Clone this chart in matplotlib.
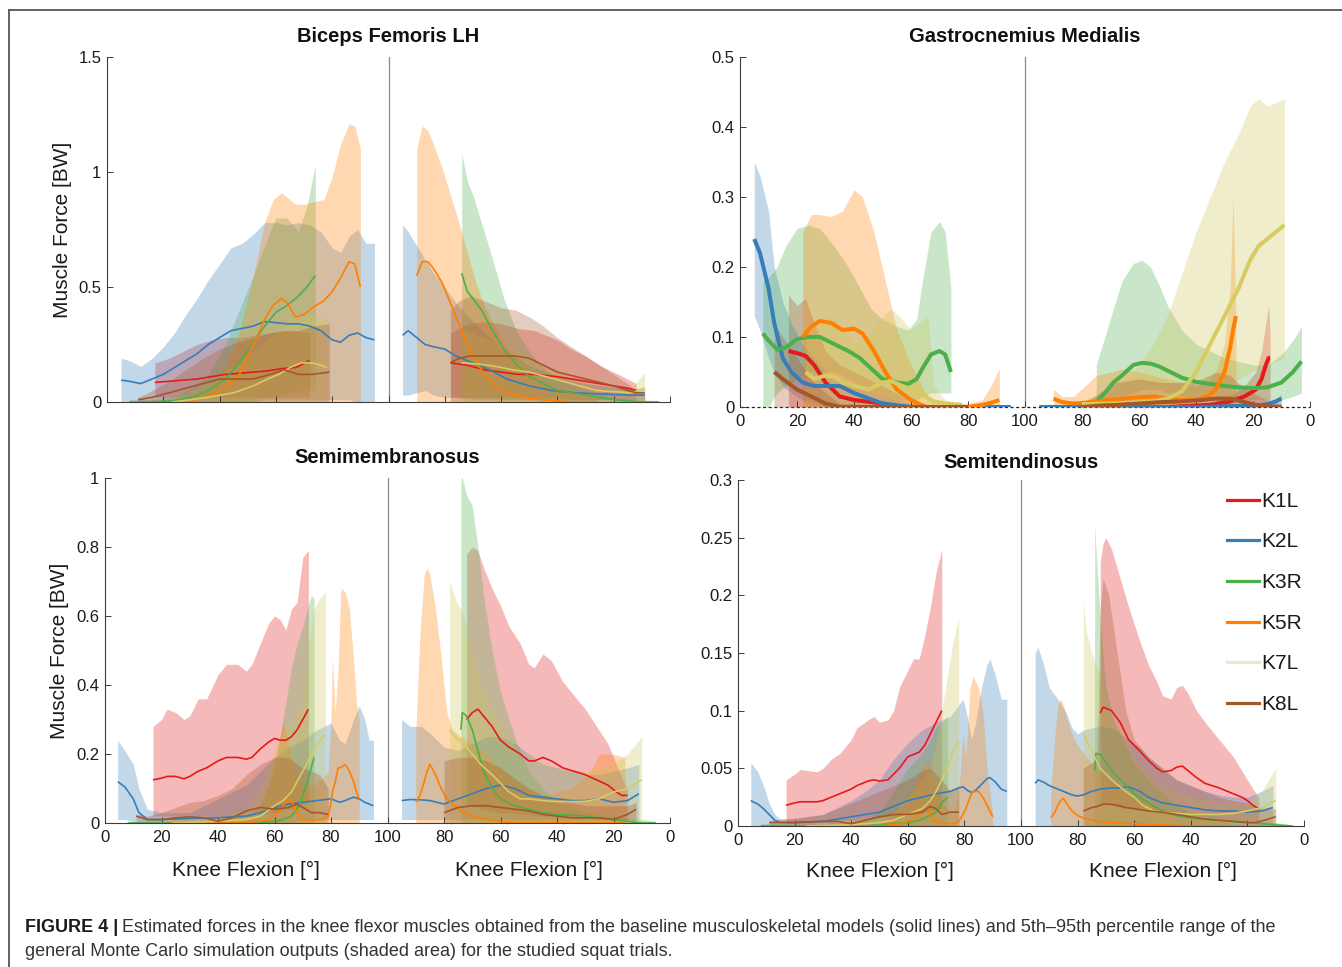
import matplotlib
matplotlib.use('Agg')
import matplotlib.pyplot as plt
import numpy as np
from matplotlib.lines import Line2D
from matplotlib.transforms import blended_transform_factory

plt.rcParams['font.family'] = ['Liberation Sans', 'DejaVu Sans']

# ---------------- data ----------------
SUBJECTS = ['K1L', 'K2L', 'K3R', 'K5R', 'K7L', 'K8L']
LINE_COLORS = ['#e41a1c', '#377eb8', '#4daf4a', '#ff7f00', '#d6cc62', '#a65628']
BAND_COLORS = ['#e41a1c', '#377eb8', '#4daf4a', '#ff7f00', '#cdc658', '#a65628']
LEGEND_COLORS = ['#e41a1c', '#377eb8', '#4daf4a', '#ff7f00', '#ebe9c8', '#a65628']
XTICK_POS = [0, 20, 40, 60, 80, 100, 120, 140, 160, 180, 200]
XTICK_LABELS = ['0', '20', '40', '60', '80', '100', '80', '60', '40', '20', '0']

# rows: (knee flexion [deg], baseline force, 5th pct, 95th pct)
# ---- Biceps Femoris LH ----
BF_K1L_DN = [(17,.085,.02,.17),(22,.09,.02,.19),(27,.095,.02,.22),(32,.10,.02,.25),(37,.11,.02,.27),
             (42,.12,.02,.28),(47,.125,.02,.28),(52,.13,.02,.29),(57,.135,.02,.30),(62,.145,.02,.31),
             (67,.15,.02,.31),(72,.18,.02,.30)]
BF_K2L_DN = [(5,.095,0,.19),(8,.09,0,.18),(12,.08,0,.155),(16,.10,0,.19),(20,.12,0,.24),(24,.15,0,.30),
             (28,.18,0,.38),(32,.21,0,.45),(36,.25,0,.53),(40,.28,0,.60),(44,.31,0,.67),(48,.32,0,.69),
             (52,.33,0,.73),(56,.35,.01,.78),(60,.345,.01,.78),(64,.34,.01,.77),(68,.34,.01,.78),
             (72,.33,.01,.77),(76,.31,.01,.74),(80,.27,.01,.67),(83,.26,.01,.65),(86,.29,.01,.72),
             (89,.30,0,.75),(92,.28,0,.69),(95,.27,0,.69)]
BF_K3R_DN = [(8,0,0,.01),(15,0,0,.01),(23,.005,0,.02),(30,.02,0,.06),(36,.05,0,.12),(42,.10,0,.25),
             (47,.17,0,.40),(52,.26,.01,.55),(56,.33,.02,.68),(60,.39,.03,.80),(64,.42,.04,.80),
             (68,.46,.05,.74),(71,.50,.05,.85),(74,.55,.05,1.03)]
BF_K5R_DN = [(28,0,0,.02),(35,.02,0,.05),(42,.06,0,.15),(47,.12,0,.30),(52,.25,0,.55),(56,.36,0,.78),
             (59,.42,0,.88),(62,.45,0,.91),(64,.43,0,.89),(67,.37,0,.86),(70,.38,0,.86),(73,.41,0,.87),
             (77,.44,0,.88),(80,.48,0,.98),(83,.54,0,1.12),(86,.61,0,1.21),(88,.60,0,1.20),(90,.50,0,1.10)]
BF_K7L_DN = [(23,0,0,.02),(30,.01,0,.05),(38,.025,0,.10),(45,.04,0,.16),(52,.07,0,.22),(57,.10,0,.27),
             (61,.12,0,.31),(65,.15,0,.34),(69,.17,0,.37),(73,.17,0,.38),(76,.16,0,.37),(78,.15,0,.36)]
BF_K8L_DN = [(11,.01,0,.02),(16,.02,0,.05),(22,.04,0,.09),(28,.06,0,.14),(34,.08,0,.19),(40,.10,0,.23),
             (46,.10,0,.26),(52,.10,0,.28),(58,.12,0,.30),(63,.14,0,.31),(68,.12,0,.31),(73,.12,0,.33),
             (79,.13,0,.34)]
BF_K1L_UP = [(78,.17,.02,.30),(72,.16,.02,.34),(66,.14,.02,.35),(60,.13,.02,.34),(54,.12,.02,.32),
             (48,.12,.02,.31),(44,.115,.02,.29),(40,.11,.02,.27),(35,.10,.01,.23),(30,.09,.01,.20),
             (25,.08,.01,.16),(20,.07,.01,.13),(15,.06,.01,.10),(12,.05,.01,.08)]
BF_K2L_UP = [(95,.29,.03,.77),(93,.31,.03,.74),(90,.28,.04,.68),(87,.25,.05,.62),(84,.24,.03,.56),
             (80,.23,.02,.50),(76,.20,.02,.43),(70,.17,.01,.35),(64,.14,.01,.28),(58,.10,.01,.22),
             (50,.07,.01,.16),(42,.05,.01,.12),(34,.04,.01,.09),(25,.035,.01,.07),(15,.03,.01,.06),
             (9,.03,.01,.06)]
BF_K3R_UP = [(74,.56,.02,1.08),(72,.48,.02,.96),(70,.45,.02,.90),(67,.40,.02,.78),(63,.31,.02,.62),
             (59,.23,.01,.45),(55,.17,.01,.32),(50,.11,.01,.22),(45,.08,0,.15),(40,.05,0,.10),
             (30,.03,0,.05),(20,.01,0,.02),(10,0,0,.01),(4,0,0,.005)]
BF_K5R_UP = [(90,.55,0,1.10),(88,.61,0,1.20),(86,.61,0,1.18),(84,.58,0,1.12),(81,.52,0,1.02),
             (78,.43,0,.90),(75,.34,0,.78),(72,.25,0,.65),(69,.18,0,.52),(66,.12,0,.42),(62,.07,0,.32),
             (58,.04,0,.24),(52,.02,0,.16),(45,.01,0,.09),(35,0,0,.04),(26,0,0,.02)]
BF_K7L_UP = [(74,.17,0,.32),(68,.165,0,.29),(62,.155,0,.26),(56,.14,0,.23),(50,.13,0,.20),(44,.11,0,.16),
             (38,.09,0,.12),(32,.07,0,.09),(26,.05,0,.07),(20,.045,0,.06),(14,.04,0,.06),(11,.05,0,.10),
             (9,.06,0,.13)]
BF_K8L_UP = [(78,.17,0,.40),(75,.19,0,.44),(71,.20,0,.46),(66,.20,0,.44),(60,.20,0,.41),(55,.20,0,.40),
             (50,.19,0,.37),(45,.16,0,.33),(40,.13,0,.28),(35,.115,0,.24),(30,.10,0,.20),(25,.085,0,.16),
             (20,.07,0,.12),(15,.05,0,.08),(12,.04,0,.05),(9,.04,0,.04)]

# ---- Gastrocnemius Medialis ----
GM_K1L_DN = [(17,.08,0,.16),(20,.077,0,.145),(23,.073,0,.155),(26,.06,0,.12),(30,.035,0,.08),
             (35,.015,0,.06),(40,.01,0,.05),(50,.005,0,.03),(57,0,0,.015),(65,0,0,.005)]
GM_K2L_DN = [(5,.24,.13,.35),(7,.22,.11,.33),(10,.17,.07,.28),(12,.12,.05,.20),(15,.07,.03,.15),
             (18,.05,.02,.12),(22,.035,.01,.09),(26,.03,.005,.07),(30,.03,0,.05),(35,.03,0,.04),
             (40,.02,0,.03),(50,.005,0,.015),(60,0,0,.005),(80,0,0,.002),(95,0,0,.002)]
GM_K3R_DN = [(8,.105,0,.18),(10,.095,0,.185),(13,.082,.02,.20),(16,.085,.03,.23),(20,.097,.04,.255),
             (24,.10,.05,.26),(28,.10,.05,.255),(33,.09,.05,.23),(38,.08,.04,.20),(42,.07,.03,.17),
             (46,.055,.02,.14),(50,.04,.015,.125),(55,.035,.01,.115),(59,.033,.01,.11),(62,.04,.01,.125),
             (64,.055,.015,.18),(67,.075,.02,.25),(70,.08,.02,.265),(72,.075,.02,.25),(74,.05,.02,.17)]
GM_K5R_DN = [(22,.10,0,.25),(25,.115,0,.275),(28,.123,0,.275),(32,.12,0,.272),(36,.11,0,.28),
             (40,.112,0,.31),(43,.105,0,.30),(47,.08,0,.25),(51,.05,0,.18),(55,.025,0,.11),(60,.01,0,.06),
             (65,0,0,.02),(70,0,0,.005),(80,0,0,.005),(85,.003,0,.01),(88,.006,0,.03),(91,.01,0,.055)]
GM_K7L_DN = [(23,.05,0,.10),(26,.04,0,.12),(30,.045,0,.13),(33,.043,0,.125),(36,.035,0,.11),
             (40,.03,0,.09),(45,.025,0,.10),(50,.035,0,.13),(53,.037,0,.14),(57,.03,0,.125),
             (60,.025,0,.11),(63,.022,0,.12),(66,.012,0,.13),(68,.008,0,.03),(72,.005,0,.01),(78,.003,0,.005)]
GM_K8L_DN = [(12,.05,0,.12),(15,.04,0,.10),(20,.025,0,.07),(25,.015,0,.04),(30,.005,0,.02),
             (35,0,0,.005),(50,0,0,.002),(80,0,0,.002)]
GM_K1L_UP = [(80,0,0,0),(50,0,0,.003),(35,.003,0,.008),(28,.008,0,.015),(23,.015,0,.03),(19,.025,0,.05),
             (17,.04,0,.08),(15.5,.06,0,.12),(14.5,.07,0,.145),(14,.07,0,.10)]
GM_K2L_UP = [(95,0,0,.002),(80,0,0,.002),(60,0,0,.002),(40,0,0,.002),(20,.002,0,.005),(15,.004,0,.008),
             (12,.008,0,.012),(10,.012,0,.018)]
GM_K3R_UP = [(75,.008,0,.06),(72,.02,0,.10),(69,.035,.01,.14),(66,.045,.015,.18),(62,.06,.02,.205),
             (59,.063,.025,.21),(56,.062,.025,.20),(53,.058,.025,.175),(50,.052,.02,.145),(45,.042,.015,.11),
             (40,.036,.01,.09),(35,.033,.01,.08),(30,.03,.01,.07),(25,.028,.01,.065),(20,.027,.01,.06),
             (15,.028,.01,.06),(10,.035,.01,.075),(6,.05,.015,.095),(3,.065,.02,.115)]
GM_K5R_UP = [(90,.012,0,.025),(87,.007,0,.015),(83,.005,0,.015),(79,.006,0,.03),(75,.008,0,.045),
             (70,.01,0,.05),(65,.012,0,.055),(60,.014,0,.05),(55,.015,0,.045),(50,.012,0,.04),(45,.01,0,.035),
             (40,.01,0,.03),(36,.015,0,.035),(33,.025,0,.05),(30,.05,0,.09),(28,.085,0,.17),(27,.11,0,.305),
             (26,.13,0,.13)]
GM_K7L_UP = [(80,.004,0,.01),(70,.005,0,.02),(62,.006,0,.05),(55,.008,0,.09),(50,.012,0,.13),
             (45,.022,0,.19),(40,.05,.01,.25),(35,.09,.02,.30),(30,.13,.03,.35),(25,.17,.04,.39),
             (21,.21,.05,.43),(18,.23,.055,.44),(15,.24,.06,.43),(12,.25,.065,.435),(9,.26,.07,.44)]
GM_K8L_UP = [(80,0,0,.005),(74,.002,0,.02),(68,.003,0,.035),(60,.005,0,.04),(52,.007,0,.035),
             (45,.008,0,.035),(38,.01,0,.04),(33,.012,0,.05),(28,.012,0,.045),(24,.008,0,.03),
             (20,.004,0,.02),(15,.001,0,.01),(10,0,0,.005)]

# ---- Semimembranosus ----
SM_K1L_DN = [(17,.125,.02,.28),(20,.13,.02,.30),(22,.135,.02,.33),(25,.135,.02,.32),(28,.128,.02,.30),
             (30,.135,.02,.31),(33,.15,.02,.36),(36,.16,.02,.36),(40,.18,.015,.43),(43,.19,.015,.46),
             (47,.19,.015,.46),(50,.185,.02,.44),(52,.19,.02,.46),(55,.215,.025,.52),(58,.235,.03,.58),
             (60,.245,.03,.60),(62,.24,.035,.59),(64,.24,.04,.56),(66,.25,.04,.62),(68,.27,.045,.64),
             (70,.30,.05,.77),(72,.33,.06,.79)]
SM_K2L_DN = [(4.5,.12,.01,.24),(7,.105,.01,.21),(10,.07,.005,.17),(12,.03,0,.10),(15,.01,0,.04),
             (20,.01,0,.03),(30,.013,0,.03),(40,.015,0,.07),(45,.018,0,.09),(50,.02,0,.11),(55,.03,0,.15),
             (60,.045,0,.19),(65,.055,0,.22),(70,.06,.01,.24),(75,.065,.01,.27),(80,.07,.01,.29),
             (83,.06,.01,.24),(85,.065,.01,.23),(88,.075,.01,.30),(90,.07,.01,.34),(92,.06,.01,.30),
             (93.5,.055,.01,.24),(95,.05,.01,.24)]
SM_K3R_DN = [(8,0,0,.005),(30,0,0,.005),(50,0,0,.02),(55,.002,0,.05),(60,.005,0,.15),(63,.01,0,.30),
             (66,.02,0,.45),(68,.04,0,.52),(70,.08,0,.57),(72,.13,0,.63),(73,.16,0,.66),(74,.19,0,.65)]
SM_K5R_DN = [(23,0,0,.005),(40,0,0,.01),(50,0,0,.02),(55,.005,0,.05),(58,.01,0,.12),(61,.03,0,.22),
             (63,.05,0,.29),(64.5,.07,0,.25),(66,.065,0,.20),(68,.03,0,.13),(70,.01,0,.10),(74,.008,0,.11),
             (77,.01,0,.13),(79,.02,0,.15),(80,.06,0,.30),(80.5,.09,0,.48),(81.5,.12,0,.32),(82.5,.16,0,.45),
             (83.5,.16,0,.68),(85,.17,0,.67),(86.5,.15,0,.62),(88,.12,0,.47),(89,.09,0,.35),(90,.07,0,.30)]
SM_K7L_DN = [(24,0,0,.01),(40,.005,0,.02),(50,.01,0,.04),(55,.02,0,.10),(60,.05,0,.21),(63,.065,0,.26),
             (66,.09,0,.29),(70,.15,0,.35),(72,.18,0,.52),(74,.21,0,.62),(76,.24,0,.65),(78,.255,0,.67)]
SM_K8L_DN = [(11,.02,0,.025),(15,.01,0,.02),(20,.01,0,.03),(25,.015,0,.045),(30,.018,0,.06),
             (35,.015,0,.065),(40,.005,0,.08),(45,.015,0,.10),(50,.035,0,.14),(55,.045,0,.17),
             (60,.04,0,.19),(65,.045,0,.19),(68,.055,0,.17),(70,.045,0,.16),(73,.03,0,.15),(76,.03,0,.14),
             (79,.025,0,.10)]
SM_K1L_UP = [(72,.30,.05,.78),(70,.32,.05,.80),(68,.33,.045,.79),(66,.31,.04,.74),(63,.28,.035,.68),
             (60,.24,.03,.63),(57,.22,.03,.57),(53,.20,.025,.52),(50,.18,.025,.46),(48,.18,.02,.45),
             (45,.19,.02,.49),(42,.18,.02,.47),(38,.16,.02,.41),(34,.15,.015,.37),(30,.14,.015,.33),
             (26,.125,.01,.28),(22,.11,.01,.23),(19,.09,.01,.17),(17,.08,.01,.13),(15,.08,.01,.10)]
SM_K2L_UP = [(95,.065,.01,.30),(92,.068,.01,.28),(88,.067,.01,.28),(85,.065,.01,.26),(80,.055,.01,.22),
             (75,.07,.01,.21),(70,.085,.01,.23),(65,.10,.01,.25),(60,.11,.01,.25),(55,.10,.01,.23),
             (50,.08,.01,.20),(45,.075,.01,.17),(40,.07,.01,.16),(35,.065,.01,.15),(30,.065,.01,.14),
             (25,.07,.01,.14),(20,.06,.01,.15),(15,.065,.01,.16),(11,.085,.01,.17)]
SM_K3R_UP = [(74,.27,0,1.0),(73.5,.32,0,1.0),(72,.31,0,.95),(70,.27,0,.92),(68,.21,0,.80),(66,.15,0,.66),
             (63,.10,0,.50),(60,.07,0,.38),(55,.05,0,.25),(50,.04,0,.15),(45,.03,0,.10),(40,.025,0,.06),
             (30,.02,0,.03),(20,.01,0,.02),(10,0,0,.01),(5,0,0,.005)]
SM_K5R_UP = [(90,.06,0,.26),(88.5,.08,0,.55),(87,.12,0,.72),(86,.15,0,.74),(85,.17,0,.72),(83,.14,0,.62),
             (81,.10,0,.48),(79,.07,0,.32),(77,.055,0,.27),(74,.035,0,.25),(70,.02,0,.23),(65,.01,0,.20),
             (60,.005,0,.16),(55,0,0,.12),(45,0,0,.08),(35,0,0,.10),(28,0,0,.15),(25,0,0,.20),
             (20,0,0,.20),(16,0,0,.19)]
SM_K7L_UP = [(78,.27,0,.70),(76,.25,0,.65),(73,.23,0,.60),(70,.20,0,.50),(67,.17,0,.40),(63,.14,0,.33),
             (60,.115,0,.28),(57,.09,0,.24),(53,.07,0,.21),(50,.07,0,.20),(45,.065,0,.18),(40,.062,0,.16),
             (35,.062,0,.155),(30,.063,0,.15),(25,.07,0,.16),(20,.09,0,.17),(15,.10,0,.20),(10,.125,0,.25)]
SM_K8L_UP = [(80,.03,0,.18),(75,.045,0,.19),(70,.05,0,.19),(65,.05,0,.18),(60,.045,0,.16),(55,.04,0,.13),
             (50,.035,0,.10),(45,.025,0,.08),(40,.02,0,.07),(35,.015,0,.06),(30,.015,0,.05),(25,.015,0,.05),
             (20,.01,0,.05),(15,.025,0,.05),(12,.04,0,.06)]

# ---- Semitendinosus ----
ST_K1L_DN = [(17,.018,.002,.04),(20,.02,.002,.045),(22,.021,.002,.049),(25,.021,.002,.048),
             (28,.021,.003,.047),(30,.022,.003,.05),(33,.025,.003,.058),(36,.028,.004,.063),
             (40,.032,.005,.075),(42,.035,.005,.085),(46,.039,.006,.092),(48,.04,.006,.095),
             (50,.039,.007,.09),(53,.04,.008,.092),(55,.045,.008,.10),(57,.05,.009,.12),(60,.06,.01,.135),
             (62,.062,.01,.145),(64,.064,.011,.145),(66,.07,.012,.165),(68,.08,.013,.19),(70,.09,.014,.22),
             (72,.10,.015,.24)]
ST_K2L_DN = [(4.5,.022,0,.055),(7,.019,0,.047),(9,.015,0,.035),(11,.01,0,.02),(13,.005,0,.01),
             (15,.003,0,.006),(20,.003,0,.006),(30,.004,0,.01),(40,.008,0,.022),(45,.01,0,.03),
             (50,.012,0,.04),(55,.017,0,.058),(60,.022,0,.072),(65,.025,0,.083),(70,.028,0,.09),
             (75,.03,0,.095),(78,.033,0,.105),(79.5,.034,0,.11),(81,.031,0,.095),(82.5,.029,0,.075),
             (84,.031,0,.09),(86,.036,0,.12),(88,.041,0,.14),(89,.042,0,.145),(91,.038,0,.13),
             (93,.032,0,.11),(95,.03,0,.11)]
ST_K3R_DN = [(8,0,0,.002),(30,0,0,.002),(45,0,0,.005),(50,.001,0,.012),(55,.002,0,.03),(60,.003,0,.05),
             (64,.005,0,.06),(67,.008,0,.07),(70,.012,0,.085),(72,.02,0,.09),(74,.025,0,.095)]
ST_K5R_DN = [(23,0,0,.002),(50,0,0,.005),(58,.002,0,.015),(62,.006,0,.03),(65,.012,0,.05),
             (67,.015,0,.056),(69,.005,0,.04),(72,.002,0,.02),(76,.002,0,.01),(78,.004,0,.03),
             (79.5,.01,0,.08),(80.5,.015,0,.06),(82,.025,0,.12),(83,.03,0,.13),(85,.03,0,.12),
             (86.5,.025,0,.10),(88,.018,0,.05),(90,.008,0,.01)]
ST_K7L_DN = [(24,0,0,.002),(40,.001,0,.004),(50,.003,0,.008),(55,.005,0,.012),(60,.01,0,.025),
             (65,.015,0,.04),(68,.022,0,.05),(70,.03,0,.07),(72,.04,0,.10),(74,.05,0,.13),(76,.065,0,.16),
             (78,.073,0,.18)]
ST_K8L_DN = [(11,.003,0,.005),(20,.003,0,.007),(30,.004,0,.01),(35,.004,0,.015),(40,.002,0,.02),
             (45,.005,0,.025),(50,.008,0,.03),(55,.01,0,.035),(60,.01,0,.04),(65,.012,0,.048),
             (68,.017,0,.05),(70,.015,0,.045),(72,.01,0,.04),(75,.012,0,.03),(78,.012,0,.035)]
ST_K1L_UP = [(72,.098,.02,.23),(71,.103,.02,.245),(70,.102,.02,.25),(68,.10,.018,.24),(65,.09,.016,.215),
             (62,.075,.015,.19),(58,.065,.014,.16),(55,.057,.013,.14),(52,.05,.012,.125),(50,.047,.011,.113),
             (47,.048,.01,.11),(45,.051,.01,.12),(43,.052,.01,.122),(41,.048,.01,.115),(38,.042,.009,.10),
             (35,.037,.008,.09),(30,.033,.007,.075),(25,.028,.006,.06),(22,.025,.005,.048),(20,.022,.005,.04),
             (18,.018,.005,.032),(16,.015,.004,.025)]
ST_K2L_UP = [(95,.037,0,.15),(94,.04,0,.155),(92,.038,0,.14),(90,.035,0,.12),(87,.032,0,.11),
             (84,.029,0,.098),(82,.027,0,.085),(80,.026,0,.08),(78,.027,0,.083),(75,.03,0,.085),
             (72,.032,0,.087),(68,.033,0,.085),(65,.033,0,.08),(62,.034,0,.075),(58,.03,0,.068),
             (55,.025,0,.06),(50,.02,0,.05),(45,.018,0,.04),(40,.016,0,.035),(35,.014,0,.03),
             (30,.013,0,.027),(25,.013,0,.025),(20,.012,0,.025),(15,.013,0,.03),(11,.016,0,.035)]
ST_K3R_UP = [(74,.048,0,.26),(73.5,.063,0,.24),(72,.062,0,.18),(70,.055,0,.12),(67,.045,0,.09),
             (64,.038,0,.075),(60,.028,0,.055),(55,.02,0,.04),(50,.013,0,.028),(45,.009,0,.018),
             (40,.007,0,.012),(30,.005,0,.008),(20,.003,0,.005),(10,.001,0,.003),(4,0,0,.001)]
ST_K5R_UP = [(89.5,.007,0,.03),(88,.012,0,.08),(87,.018,0,.105),(86,.022,0,.11),(85,.024,0,.105),
             (84,.02,0,.095),(82,.013,0,.08),(80,.009,0,.07),(77,.006,0,.06),(73,.004,0,.048),
             (68,.003,0,.038),(60,.002,0,.025),(50,.001,0,.015),(40,0,0,.01),(30,0,0,.005),(26,0,0,.003)]
ST_K7L_UP = [(78,.08,0,.195),(77,.075,0,.17),(75,.065,0,.15),(72,.05,0,.13),(70,.045,0,.11),
             (67,.038,0,.09),(63,.03,0,.075),(60,.025,0,.06),(57,.018,0,.05),(53,.013,0,.04),
             (50,.012,0,.035),(45,.011,0,.03),(40,.01,0,.025),(35,.01,0,.022),(30,.01,0,.02),
             (25,.011,0,.02),(20,.013,0,.02),(15,.016,0,.03),(10,.022,0,.05)]
ST_K8L_UP = [(78,.013,0,.05),(75,.016,0,.055),(73,.017,0,.06),(72,.018,0,.19),(71,.019,0,.215),
             (69,.019,0,.20),(66,.018,0,.15),(63,.016,0,.10),(60,.015,0,.075),(55,.013,0,.06),
             (50,.012,0,.05),(45,.01,0,.04),(40,.008,0,.035),(35,.006,0,.03),(30,.005,0,.025),
             (25,.004,0,.022),(20,.003,0,.02),(17,.003,0,.017),(14,.005,0,.015),(10,.008,0,.015)]

BF_DOWN = [BF_K1L_DN, BF_K2L_DN, BF_K3R_DN, BF_K5R_DN, BF_K7L_DN, BF_K8L_DN]
BF_UP = [BF_K1L_UP, BF_K2L_UP, BF_K3R_UP, BF_K5R_UP, BF_K7L_UP, BF_K8L_UP]
GM_DOWN = [GM_K1L_DN, GM_K2L_DN, GM_K3R_DN, GM_K5R_DN, GM_K7L_DN, GM_K8L_DN]
GM_UP = [GM_K1L_UP, GM_K2L_UP, GM_K3R_UP, GM_K5R_UP, GM_K7L_UP, GM_K8L_UP]
SM_DOWN = [SM_K1L_DN, SM_K2L_DN, SM_K3R_DN, SM_K5R_DN, SM_K7L_DN, SM_K8L_DN]
SM_UP = [SM_K1L_UP, SM_K2L_UP, SM_K3R_UP, SM_K5R_UP, SM_K7L_UP, SM_K8L_UP]
ST_DOWN = [ST_K1L_DN, ST_K2L_DN, ST_K3R_DN, ST_K5R_DN, ST_K7L_DN, ST_K8L_DN]
ST_UP = [ST_K1L_UP, ST_K2L_UP, ST_K3R_UP, ST_K5R_UP, ST_K7L_UP, ST_K8L_UP]

# ---------------- figure ----------------
W, H = 1342, 967
fig = plt.figure(figsize=(W / 100, H / 100), dpi=100)


def px_axes(x0, x1, ytop, ybot):
    return fig.add_axes([x0 / W, 1 - ybot / H, (x1 - x0) / W, (ybot - ytop) / H])


SPINE = '#3c3c3c'


def setup(ax, ymax, yticks, ylabels, title, show_xlabels, title_pad=11):
    ax.set_xlim(0, 200)
    ax.set_ylim(0, ymax)
    for s in ('top', 'right'):
        ax.spines[s].set_visible(False)
    for s in ('left', 'bottom'):
        ax.spines[s].set_color(SPINE)
        ax.spines[s].set_linewidth(0.8)
    ax.set_xticks(XTICK_POS)
    ax.set_xticklabels(XTICK_LABELS if show_xlabels else [''] * len(XTICK_POS))
    ax.set_yticks(yticks)
    ax.set_yticklabels(ylabels)
    ax.tick_params(direction='in', length=4, width=0.7, color=SPINE, labelsize=12,
                   labelcolor='#1a1a1a', pad=4)
    ax.tick_params(axis='x', pad=5)
    ax.axvline(100, color='#8a8a8a', lw=0.9, zorder=0.5)
    ax.set_title(title, fontsize=14.5, fontweight='bold', pad=title_pad, color='#111111')


def draw(ax, down, up, lw):
    for i in range(len(SUBJECTS)):
        for rows, asc in ((down[i], False), (up[i], True)):
            arr = np.array(rows, dtype=float)
            x = 200 - arr[:, 0] if asc else arr[:, 0]
            ax.fill_between(x, arr[:, 2], arr[:, 3], color=BAND_COLORS[i], alpha=0.3, lw=0)
            ax.plot(x, arr[:, 1], color=LINE_COLORS[i], lw=lw, solid_capstyle='butt')


ax_bf = px_axes(107, 670, 57, 402)
ax_gm = px_axes(740, 1310, 57, 407)
ax_sm = px_axes(105, 670, 478, 823)
ax_st = px_axes(738, 1304, 480, 826)

setup(ax_bf, 1.5, [0, 0.5, 1, 1.5], ['0', '0.5', '1', '1.5'], 'Biceps Femoris LH', False)
setup(ax_gm, 0.5, [0, 0.1, 0.2, 0.3, 0.4, 0.5], ['0', '0.1', '0.2', '0.3', '0.4', '0.5'],
      'Gastrocnemius Medialis', True)
setup(ax_sm, 1.0, [0, 0.2, 0.4, 0.6, 0.8, 1.0], ['0', '0.2', '0.4', '0.6', '0.8', '1'],
      'Semimembranosus', True)
setup(ax_st, 0.3, [0, 0.05, 0.1, 0.15, 0.2, 0.25, 0.3],
      ['0', '0.05', '0.1', '0.15', '0.2', '0.25', '0.3'], 'Semitendinosus', True, title_pad=9)

draw(ax_bf, BF_DOWN, BF_UP, 1.2)
draw(ax_gm, GM_DOWN, GM_UP, 2.9)
draw(ax_sm, SM_DOWN, SM_UP, 1.2)
draw(ax_st, ST_DOWN, ST_UP, 1.2)

# dashed baseline in GM panel
ax_gm.spines['bottom'].set_visible(False)
ax_gm.axhline(0, color='#222222', lw=0.9, ls=(0, (2.5, 2)), zorder=0.6, clip_on=False)

for ax in (ax_bf, ax_sm):
    ax.set_ylabel('Muscle Force [BW]', fontsize=15, color='#1a1a1a', labelpad=5)

for ax, yoff in ((ax_sm, -0.137), (ax_st, -0.13)):
    tr = blended_transform_factory(ax.transData, ax.transAxes)
    for xc in (50, 150):
        ax.text(xc, yoff, 'Knee Flexion [°]', transform=tr, ha='center', va='center',
                fontsize=15, color='#1a1a1a')

handles = [Line2D([0], [0], color=c, lw=2.3) for c in LEGEND_COLORS]
leg = ax_st.legend(handles, SUBJECTS, loc='upper right', bbox_to_anchor=(1.012, 0.99),
                   frameon=False, fontsize=15, handlelength=1.55, handletextpad=0.12,
                   labelspacing=1.04, borderaxespad=0.0)
for t in leg.get_texts():
    t.set_color('#1a1a1a')

# outer frame (top and left edges)
fig.add_artist(Line2D([9 / W, 1.0], [1 - 10 / H, 1 - 10 / H], color='#555555', lw=1.3,
                      transform=fig.transFigure))
fig.add_artist(Line2D([9 / W, 9 / W], [0.0, 1 - 10 / H], color='#555555', lw=1.3,
                      transform=fig.transFigure))

# caption
t1 = fig.text(25 / W, 1 - 928 / H, 'FIGURE 4 |', fontsize=13, fontweight='bold',
              color='#1a1a1a', va='center', ha='left')
fig.canvas.draw()
bb = t1.get_window_extent(renderer=fig.canvas.get_renderer())
fig.text((bb.x1 + 4) / W, 1 - 928 / H,
         'Estimated forces in the knee flexor muscles obtained from the baseline musculoskeletal '
         'models (solid lines) and 5th\u201395th percentile range of the',
         fontsize=13, color='#333333', va='center', ha='left')
fig.text(25 / W, 1 - 952 / H,
         'general Monte Carlo simulation outputs (shaded area) for the studied squat trials.',
         fontsize=13, color='#333333', va='center', ha='left')

fig.savefig('out.png', dpi=100)
